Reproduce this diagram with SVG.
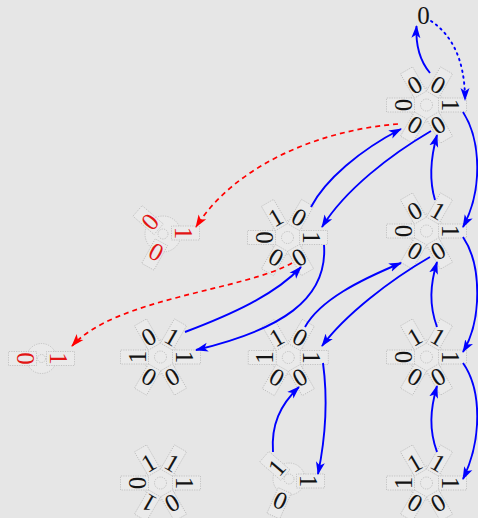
<svg xmlns="http://www.w3.org/2000/svg" width="478" height="518" viewBox="0 0 478 518">
<style>
.bg{fill:#e6e6e6}
.disc{fill:#eaeaea;stroke:#b9b9b9;stroke-width:0.8;stroke-dasharray:1.2 1.2}
.arm{fill:#eaeaea;stroke:#b9b9b9;stroke-width:0.8;stroke-dasharray:1.2 1.2}
.hub{fill:none;stroke:#b5b5b5;stroke-width:0.8;stroke-dasharray:1.2 1.2}
.d{font-family:"Liberation Serif","Times New Roman",serif;font-size:25px;text-anchor:middle;fill:#141414}
.r{fill:#e21515}
.eb{fill:none;stroke:#0000ff;stroke-width:1.9}
.ed{fill:none;stroke:#0000ff;stroke-width:1.9;stroke-dasharray:1.6 4.4;stroke-linecap:round}
.er{fill:none;stroke:#ff0000;stroke-width:1.7;stroke-dasharray:5 4}
</style>
<defs>
<rect id="arm6" class="arm" x="-7" y="-40" width="14" height="28"/>
<rect id="armc" class="arm" x="-7" y="-16.5" width="14" height="28"/>
<marker id="ab" viewBox="0 0 13 10" refX="12" refY="5" markerWidth="13" markerHeight="10" markerUnits="userSpaceOnUse" orient="auto">
<path d="M0,0.5 L13,5 L0,9.5 L3.2,5 Z" fill="#0000ff"/>
</marker>
<marker id="ar" viewBox="0 0 13 10" refX="12" refY="5" markerWidth="13" markerHeight="10" markerUnits="userSpaceOnUse" orient="auto">
<path d="M0,0.5 L13,5 L0,9.5 L3.2,5 Z" fill="#ff0000"/>
</marker>
</defs>
<rect class="bg" x="0" y="0" width="478" height="518"/>

<g id="n0">
<text class="d" x="423.5" y="23.5">0</text>
</g>

<g id="nA" transform="translate(426.5,105)">
<circle class="disc" r="17"/>
<use href="#arm6" transform="rotate(90)"/><use href="#arm6" transform="rotate(30)"/><use href="#arm6" transform="rotate(-30)"/><use href="#arm6" transform="rotate(-90)"/><use href="#arm6" transform="rotate(-150)"/><use href="#arm6" transform="rotate(150)"/>
<circle class="hub" r="6"/>
<text class="d" transform="rotate(90) translate(0,-15)">1</text>
<text class="d" transform="rotate(30) translate(0,-15)">0</text>
<text class="d" transform="rotate(-30) translate(0,-15)">0</text>
<text class="d" transform="rotate(-90) translate(0,-15)">0</text>
<text class="d" transform="rotate(-150) translate(0,-15)">0</text>
<text class="d" transform="rotate(150) translate(0,-15)">0</text>
</g>

<g id="nB" transform="translate(287.5,237.5)">
<circle class="disc" r="17"/>
<use href="#arm6" transform="rotate(90)"/><use href="#arm6" transform="rotate(30)"/><use href="#arm6" transform="rotate(-30)"/><use href="#arm6" transform="rotate(-90)"/><use href="#arm6" transform="rotate(-150)"/><use href="#arm6" transform="rotate(150)"/>
<circle class="hub" r="6"/>
<text class="d" transform="rotate(90) translate(0,-15)">1</text>
<text class="d" transform="rotate(30) translate(0,-15)">0</text>
<text class="d" transform="rotate(-30) translate(0,-15)">1</text>
<text class="d" transform="rotate(-90) translate(0,-15)">0</text>
<text class="d" transform="rotate(-150) translate(0,-15)">0</text>
<text class="d" transform="rotate(150) translate(0,-15)">0</text>
</g>

<g id="nC" transform="translate(426.5,231)">
<circle class="disc" r="17"/>
<use href="#arm6" transform="rotate(90)"/><use href="#arm6" transform="rotate(30)"/><use href="#arm6" transform="rotate(-30)"/><use href="#arm6" transform="rotate(-90)"/><use href="#arm6" transform="rotate(-150)"/><use href="#arm6" transform="rotate(150)"/>
<circle class="hub" r="6"/>
<text class="d" transform="rotate(90) translate(0,-15)">1</text>
<text class="d" transform="rotate(30) translate(0,-15)">1</text>
<text class="d" transform="rotate(-30) translate(0,-15)">0</text>
<text class="d" transform="rotate(-90) translate(0,-15)">0</text>
<text class="d" transform="rotate(-150) translate(0,-15)">0</text>
<text class="d" transform="rotate(150) translate(0,-15)">0</text>
</g>

<g id="nR1" transform="translate(163,234)">
<circle class="disc" r="18"/>
<use href="#armc" transform="translate(20,-1) rotate(90)"/>
<use href="#armc" transform="translate(-13,-12.3) rotate(-49)"/>
<use href="#armc" transform="translate(-7.2,18.3) rotate(-151)"/>
<circle class="hub" r="5"/>
<text class="d r" transform="translate(20,-1) rotate(90)" y="8.5">1</text>
<text class="d r" transform="translate(-13,-12.3) rotate(-49)" y="8.5">0</text>
<text class="d r" transform="translate(-7.2,18.3) rotate(-151)" y="8.5">0</text>
</g>

<g id="nR2" transform="translate(41.5,358.5)">
<circle class="disc" r="15"/>
<use href="#armc" transform="translate(-16.5,0) rotate(-90)"/>
<use href="#armc" transform="translate(16.5,0) rotate(90)"/>
<circle class="hub" r="4"/>
<text class="d r" transform="translate(-16.5,0) rotate(-90)" y="8.5">0</text>
<text class="d r" transform="translate(16.5,0) rotate(90)" y="8.5">1</text>
</g>

<g id="nD" transform="translate(160.5,357)">
<circle class="disc" r="17"/>
<use href="#arm6" transform="rotate(90)"/><use href="#arm6" transform="rotate(30)"/><use href="#arm6" transform="rotate(-30)"/><use href="#arm6" transform="rotate(-90)"/><use href="#arm6" transform="rotate(-150)"/><use href="#arm6" transform="rotate(150)"/>
<circle class="hub" r="6"/>
<text class="d" transform="rotate(90) translate(0,-15)">1</text>
<text class="d" transform="rotate(30) translate(0,-15)">1</text>
<text class="d" transform="rotate(-30) translate(0,-15)">0</text>
<text class="d" transform="rotate(-90) translate(0,-15)">1</text>
<text class="d" transform="rotate(-150) translate(0,-15)">0</text>
<text class="d" transform="rotate(150) translate(0,-15)">0</text>
</g>

<g id="nE" transform="translate(288.3,357.5)">
<circle class="disc" r="17"/>
<use href="#arm6" transform="rotate(90)"/><use href="#arm6" transform="rotate(30)"/><use href="#arm6" transform="rotate(-30)"/><use href="#arm6" transform="rotate(-90)"/><use href="#arm6" transform="rotate(-150)"/><use href="#arm6" transform="rotate(150)"/>
<circle class="hub" r="6"/>
<text class="d" transform="rotate(90) translate(0,-15)">1</text>
<text class="d" transform="rotate(30) translate(0,-15)">0</text>
<text class="d" transform="rotate(-30) translate(0,-15)">1</text>
<text class="d" transform="rotate(-90) translate(0,-15)">1</text>
<text class="d" transform="rotate(-150) translate(0,-15)">0</text>
<text class="d" transform="rotate(150) translate(0,-15)">0</text>
</g>

<g id="nF" transform="translate(426.5,357)">
<circle class="disc" r="17"/>
<use href="#arm6" transform="rotate(90)"/><use href="#arm6" transform="rotate(30)"/><use href="#arm6" transform="rotate(-30)"/><use href="#arm6" transform="rotate(-90)"/><use href="#arm6" transform="rotate(-150)"/><use href="#arm6" transform="rotate(150)"/>
<circle class="hub" r="6"/>
<text class="d" transform="rotate(90) translate(0,-15)">1</text>
<text class="d" transform="rotate(30) translate(0,-15)">1</text>
<text class="d" transform="rotate(-30) translate(0,-15)">1</text>
<text class="d" transform="rotate(-90) translate(0,-15)">0</text>
<text class="d" transform="rotate(-150) translate(0,-15)">0</text>
<text class="d" transform="rotate(150) translate(0,-15)">0</text>
</g>

<g id="nG" transform="translate(160.5,483)">
<circle class="disc" r="17"/>
<use href="#arm6" transform="rotate(90)"/><use href="#arm6" transform="rotate(30)"/><use href="#arm6" transform="rotate(-30)"/><use href="#arm6" transform="rotate(-90)"/><use href="#arm6" transform="rotate(-150)"/><use href="#arm6" transform="rotate(150)"/>
<circle class="hub" r="6"/>
<text class="d" transform="rotate(90) translate(0,-15)">1</text>
<text class="d" transform="rotate(30) translate(0,-15)">1</text>
<text class="d" transform="rotate(-30) translate(0,-15)">1</text>
<text class="d" transform="rotate(-90) translate(0,-15)">0</text>
<text class="d" transform="rotate(-150) translate(0,-15)">1</text>
<text class="d" transform="rotate(150) translate(0,-15)">0</text>
</g>

<g id="nH" transform="translate(289,479)">
<circle class="disc" r="16"/>
<use href="#armc" transform="translate(19,2) rotate(90)"/>
<use href="#armc" transform="translate(-12.3,-11.5) rotate(-49)"/>
<use href="#armc" transform="translate(-9,22) rotate(-156)"/>
<circle class="hub" r="5"/>
<text class="d" transform="translate(19,2) rotate(90)" y="8.5">1</text>
<text class="d" transform="translate(-12.3,-11.5) rotate(-49)" y="8.5">1</text>
<text class="d" transform="translate(-9,22) rotate(-156)" y="8.5">0</text>
</g>

<g id="nI" transform="translate(426.5,483)">
<circle class="disc" r="17"/>
<use href="#arm6" transform="rotate(90)"/><use href="#arm6" transform="rotate(30)"/><use href="#arm6" transform="rotate(-30)"/><use href="#arm6" transform="rotate(-90)"/><use href="#arm6" transform="rotate(-150)"/><use href="#arm6" transform="rotate(150)"/>
<circle class="hub" r="6"/>
<text class="d" transform="rotate(90) translate(0,-15)">1</text>
<text class="d" transform="rotate(30) translate(0,-15)">1</text>
<text class="d" transform="rotate(-30) translate(0,-15)">1</text>
<text class="d" transform="rotate(-90) translate(0,-15)">1</text>
<text class="d" transform="rotate(-150) translate(0,-15)">0</text>
<text class="d" transform="rotate(150) translate(0,-15)">0</text>
</g>

<g id="connectors">
<path class="eb" marker-end="url(#ab)" d="M430,73 Q415,55 416.5,26"/>
<path class="ed" marker-end="url(#ab)" d="M431,21 C452,35 465,60 465,100"/>
<path class="eb" marker-end="url(#ab)" d="M311,207 C325,180 360,150 401,129"/>
<path class="eb" marker-end="url(#ab)" d="M431,131 C390,155 345,190 322,227"/>
<path class="eb" marker-end="url(#ab)" d="M435,200 C429,180 430,160 437,135"/>
<path class="eb" marker-end="url(#ab)" d="M463,112 C481,140 483,190 463,227"/>
<path class="er" marker-end="url(#ar)" d="M398,124 C320,130 235,165 196,227"/>
<path class="eb" marker-end="url(#ab)" d="M324,245 C328,300 280,330 196,350"/>
<path class="eb" marker-end="url(#ab)" d="M185,332 C230,315 275,295 301,267"/>
<path class="er" marker-end="url(#ar)" d="M292,263 C245,290 115,298 72,346"/>
<path class="eb" marker-end="url(#ab)" d="M305,327 C320,300 360,280 401,263"/>
<path class="eb" marker-end="url(#ab)" d="M430,257 C390,280 345,315 322,346"/>
<path class="eb" marker-end="url(#ab)" d="M437,327 C429,305 430,285 437,262"/>
<path class="eb" marker-end="url(#ab)" d="M463,237 C482,265 482,320 463,352"/>
<path class="eb" marker-end="url(#ab)" d="M273,452 C271,425 280,405 299,387"/>
<path class="eb" marker-end="url(#ab)" d="M323,363 C328,400 325,440 318,474"/>
<path class="eb" marker-end="url(#ab)" d="M437,452 C429,430 430,410 437,386"/>
<path class="eb" marker-end="url(#ab)" d="M463,363 C482,390 482,440 463,479"/>
</g>
</svg>
